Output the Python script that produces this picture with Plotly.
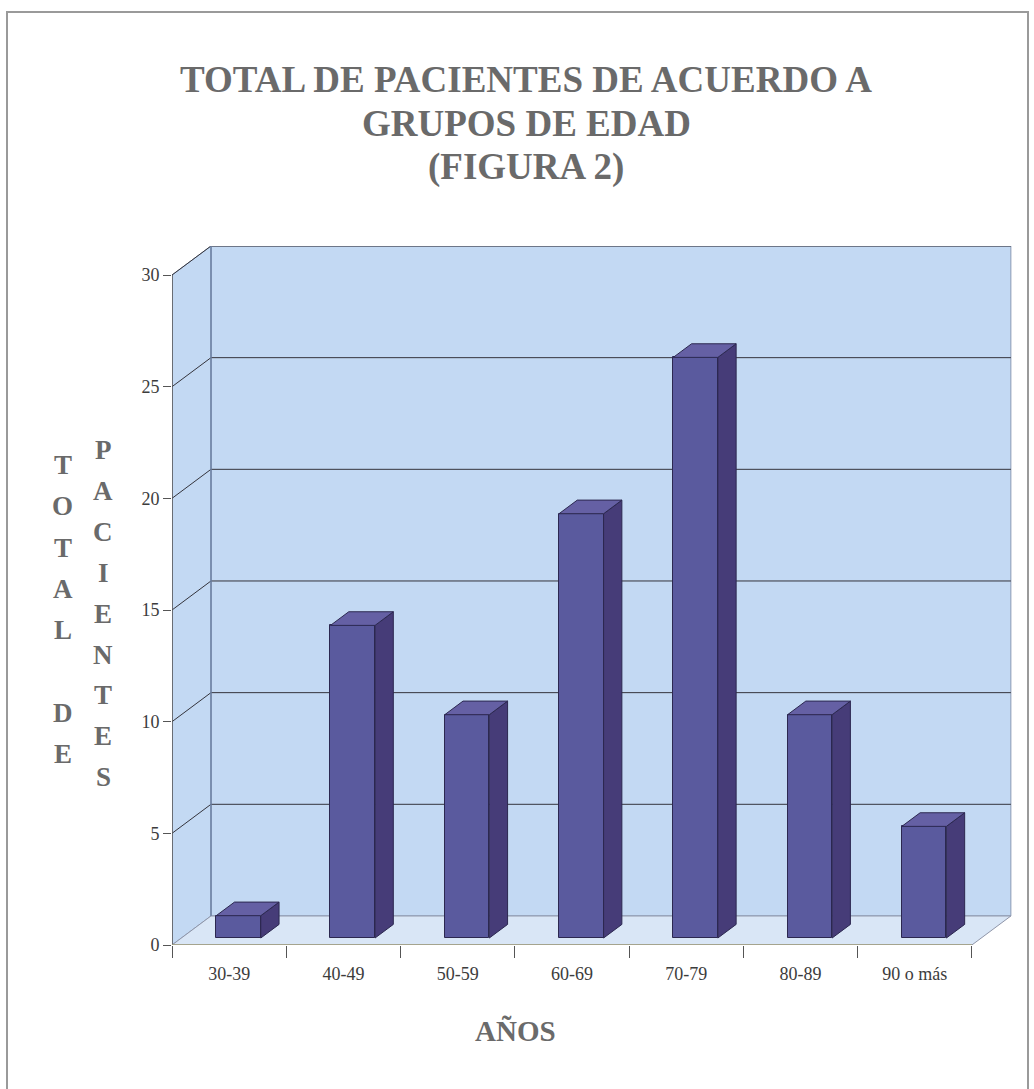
import plotly.graph_objects as go

# Data: patients by age group
categories = ["30-39", "40-49", "50-59", "60-69", "70-79", "80-89", "90 o más"]
patients = [1, 14, 10, 19, 26, 10, 5]
y_ticks = [0, 5, 10, 15, 20, 25, 30]
title_lines = ["TOTAL DE PACIENTES DE ACUERDO A", "GRUPOS DE EDAD", "(FIGURA 2)"]

# Pseudo-3D geometry (in data units)
Y_MAX = 30
N = len(categories)
DX, DY = 0.341, 1.30          # full depth offset of the back wall
F = 0.24                       # depth of the bar front face
BAR_W = 0.39                   # bar width
BDX, BDY = 0.16, 0.61          # bar depth

# Figure pixel layout
W, H = 1034, 1089
L, R, T, B = 172, 22, 246, 144
PW, PH = W - L - R, H - T - B


def px(x):
    return (x - L) / PW


def py(y):
    return (H - B - y) / PH


SERIF = "Liberation Serif, Times New Roman, serif"
wall = "#c3d9f3"
floor = "#d9e6f6"
edge = "#8a9ab5"
grid = "#34343c"
bar_front = "#5a5a9e"
bar_side = "#463c78"
bar_top = "#6560a4"
bar_line = "#2c2850"
text_gray = "#6a6a6a"
tick_gray = "#3c3c3c"

shapes = []
# back wall
shapes.append(dict(type="path", xref="x", yref="y", layer="below",
                   path=f"M{DX},{DY} L{N+DX},{DY} L{N+DX},{Y_MAX+DY} L{DX},{Y_MAX+DY} Z",
                   fillcolor=wall, line=dict(color=edge, width=1)))
# left side wall
shapes.append(dict(type="path", xref="x", yref="y", layer="below",
                   path=f"M0,0 L{DX},{DY} L{DX},{Y_MAX+DY} L0,{Y_MAX} Z",
                   fillcolor=wall, line=dict(color=edge, width=1)))
# floor
shapes.append(dict(type="path", xref="x", yref="y", layer="below",
                   path=f"M0,0 L{N},0 L{N+DX},{DY} L{DX},{DY} Z",
                   fillcolor=floor, line=dict(color="#8f95a8", width=1)))
# gridlines on back and side wall
for v in y_ticks[1:]:
    shapes.append(dict(type="line", xref="x", yref="y", layer="below",
                       x0=DX, y0=v + DY, x1=N + DX, y1=v + DY,
                       line=dict(color=grid, width=1)))
    shapes.append(dict(type="line", xref="x", yref="y", layer="below",
                       x0=0, y0=v, x1=DX, y1=v + DY,
                       line=dict(color=grid, width=1)))
# back wall left edge
shapes.append(dict(type="line", xref="x", yref="y", layer="below",
                   x0=DX, y0=DY, x1=DX, y1=Y_MAX + DY,
                   line=dict(color="#6f84a6", width=1.5)))
# front axis lines
shapes.append(dict(type="line", xref="x", yref="y",
                   x0=0, y0=0, x1=0, y1=Y_MAX, line=dict(color="#555555", width=1.5)))
shapes.append(dict(type="line", xref="x", yref="y",
                   x0=0, y0=0, x1=N, y1=0, line=dict(color="#a09c78", width=1.5)))
# outer frame
shapes.append(dict(type="rect", xref="paper", yref="paper",
                   x0=px(7), y0=py(12), x1=px(1028), y1=py(1095),
                   line=dict(color="#9a9a9a", width=2)))

fig = go.Figure()

# bar front faces
centers = [i + 0.5 + F * DX for i in range(N)]
base = F * DY
fig.add_trace(go.Bar(
    x=centers, y=patients, base=base, width=BAR_W,
    marker=dict(color=bar_front, line=dict(color=bar_line, width=1)),
    hoverinfo="skip", showlegend=False,
))

# bar side faces and top caps
sx, sy, tx, ty = [], [], [], []
for c, v in zip(centers, patients):
    x0, x1 = c - BAR_W / 2, c + BAR_W / 2
    y0, y1 = base, base + v
    sx += [x1, x1 + BDX, x1 + BDX, x1, x1, None]
    sy += [y0, y0 + BDY, y1 + BDY, y1, y0, None]
    tx += [x0, x1, x1 + BDX, x0 + BDX, x0, None]
    ty += [y1, y1, y1 + BDY, y1 + BDY, y1, None]
fig.add_trace(go.Scatter(x=sx, y=sy, mode="lines", fill="toself",
                         fillcolor=bar_side, line=dict(color=bar_line, width=1),
                         hoverinfo="skip", showlegend=False))
fig.add_trace(go.Scatter(x=tx, y=ty, mode="lines", fill="toself",
                         fillcolor=bar_top, line=dict(color=bar_line, width=1),
                         hoverinfo="skip", showlegend=False))

annotations = []
# title, one annotation per line for tighter line spacing
for k, line in enumerate(title_lines):
    annotations.append(dict(
        xref="paper", yref="paper", x=px(526), y=py(79 + 44 * k),
        xanchor="center", yanchor="middle", text=line, showarrow=False,
        font=dict(family=SERIF, size=37, color=text_gray, weight="bold"),
    ))
# x axis title
annotations.append(dict(
    xref="paper", yref="paper", x=px(515), y=py(1031), xanchor="center", yanchor="middle",
    text="AÑOS", showarrow=False,
    font=dict(family=SERIF, size=29, color=text_gray, weight="bold"),
))
# stacked y axis title letters
left_col = ["T", "O", "T", "A", "L", "", "D", "E"]
right_col = list("PACIENTES")
for k, ch in enumerate(left_col):
    if ch:
        annotations.append(dict(
            xref="paper", yref="paper", x=px(63), y=py(465 + 41.3 * k),
            xanchor="center", yanchor="middle", text=ch, showarrow=False,
            font=dict(family=SERIF, size=27, color=text_gray, weight="bold")))
for k, ch in enumerate(right_col):
    annotations.append(dict(
        xref="paper", yref="paper", x=px(103), y=py(450 + 40.9 * k),
        xanchor="center", yanchor="middle", text=ch, showarrow=False,
        font=dict(family=SERIF, size=27, color=text_gray, weight="bold")))

fig.update_layout(
    width=W, height=H,
    margin=dict(l=L, r=R, t=T, b=B),
    paper_bgcolor="white", plot_bgcolor="rgba(0,0,0,0)",
    shapes=shapes, annotations=annotations,
    xaxis=dict(range=[0, N + DX + 0.01], showgrid=False, zeroline=False, showline=False,
               tickvals=[i + 0.5 for i in range(N)], ticktext=categories, ticks="",
               ticklabelstandoff=16,
               tickfont=dict(family=SERIF, size=18, color=tick_gray),
               minor=dict(tick0=0, dtick=1, ticks="outside", ticklen=12,
                          tickcolor="#555555", tickwidth=1, showgrid=False),
               fixedrange=True),
    yaxis=dict(range=[0, Y_MAX + DY], showgrid=False, zeroline=False, showline=False,
               tickvals=y_ticks, ticks="outside", ticklen=8, tickcolor="#555555",
               tickfont=dict(family=SERIF, size=18, color=tick_gray),
               fixedrange=True),
    bargap=0,
)

fig.write_html("out.html")
